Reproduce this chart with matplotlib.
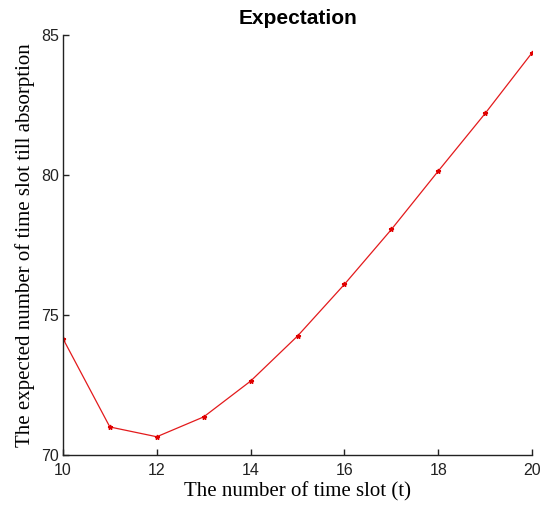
import numpy as np
import matplotlib
matplotlib.use('Agg')
import matplotlib.pyplot as plt

# expected absorption time vs. number of time slots
t_slots = [10, 11, 12, 13, 14, 15, 16, 17, 18, 19, 20]
expected = [74.15, 70.99, 70.64, 71.35, 72.63, 74.24, 76.09, 78.05, 80.14, 82.20, 84.37]

x_ticks = [10, 12, 14, 16, 18, 20]
y_ticks = [70, 75, 80, 85]

plt.rcParams['font.family'] = 'Liberation Sans'

fig = plt.figure(figsize=(5.52, 5.08), dpi=100)
ax = fig.add_axes([0.114, 0.105, 0.850, 0.826])

ax.plot(t_slots, expected, color='#e31a1c', lw=0.9, marker='*', ms=3.5,
        mec='#e00000', mfc='#e00000')

ax.set_xlim(10, 20)
ax.set_ylim(70, 85)
ax.set_xticks(x_ticks)
ax.set_yticks(y_ticks)
ax.tick_params(direction='in', length=4, width=1, labelsize=11.5, colors='#222222')
ax.tick_params(axis='x', pad=6)
ax.tick_params(axis='y', pad=3)

for side in ['top', 'right']:
    ax.spines[side].set_visible(False)
for side in ['left', 'bottom']:
    ax.spines[side].set_linewidth(1.0)
    ax.spines[side].set_color('#222222')

ax.set_title('Expectation', fontsize=15, fontweight='bold', pad=8)
ax.set_xlabel('The number of time slot (t)', fontsize=15, family='Liberation Serif', labelpad=3)
ax.set_ylabel('The expected number of time slot till absorption', fontsize=15,
              family='Liberation Serif', labelpad=4)

fig.savefig('out.png', dpi=100)
